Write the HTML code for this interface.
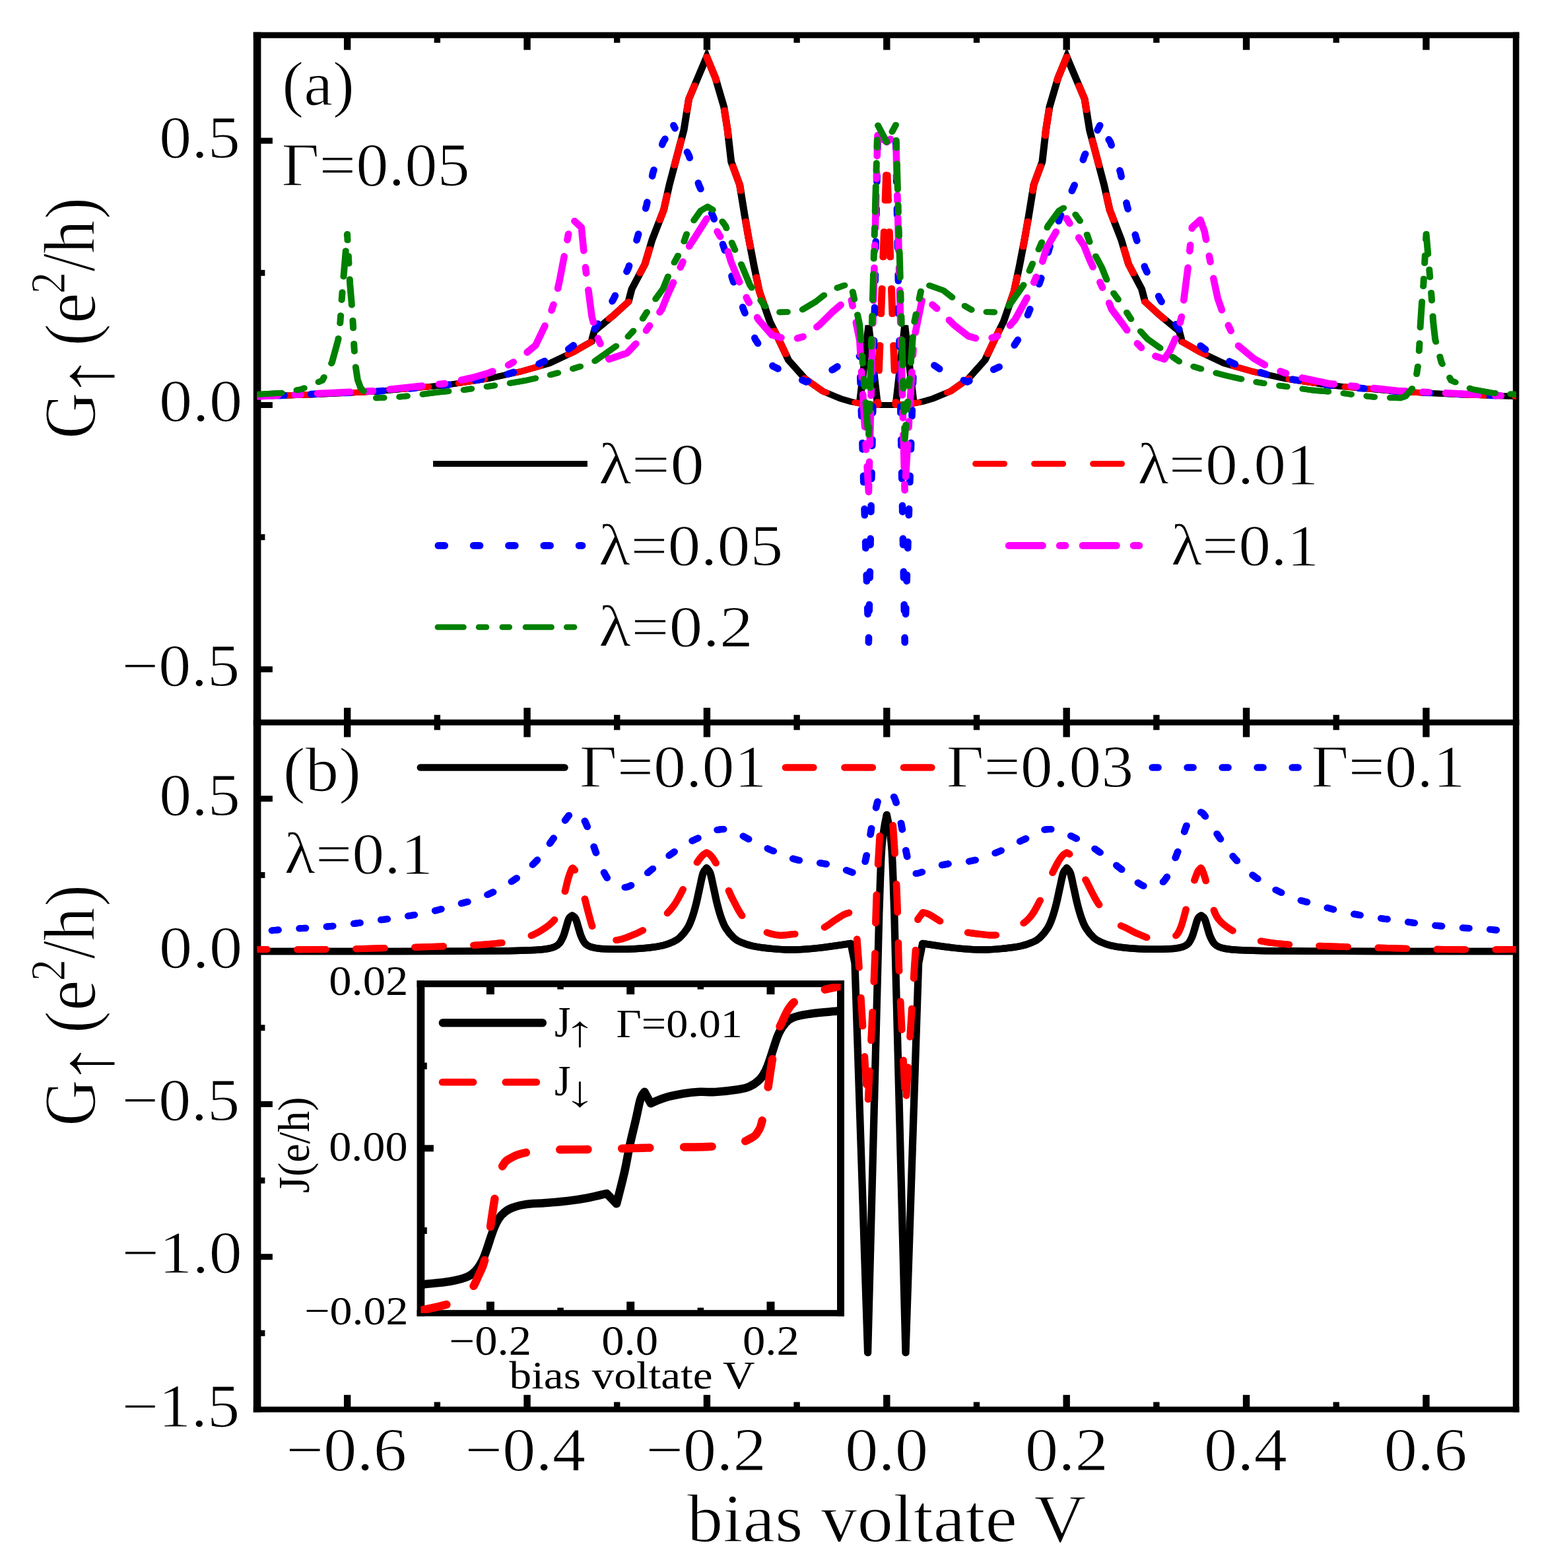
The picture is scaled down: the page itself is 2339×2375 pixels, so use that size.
<!DOCTYPE html>
<html lang="en"><head><meta charset="utf-8"><title>Conductance versus bias voltage</title>
<style>html,body{margin:0;padding:0;background:#fff}svg{display:block}</style></head><body>
<svg width="2339" height="2375" viewBox="0 0 2339 2375" role="img" aria-label="Conductance G versus bias voltage V, panels (a) and (b) with inset">
<rect x="0.00" y="0.00" width="2339.00" height="2375.00" fill="#fff"/>
<defs><clipPath id="clipA"><rect x="389.6" y="53.2" width="1907" height="1041"/></clipPath><clipPath id="clipB"><rect x="389.6" y="1094.2" width="1907" height="1040.8"/></clipPath><clipPath id="clipI"><rect x="637.4" y="1490" width="636.2" height="499"/></clipPath></defs>
<path d="M660.6 702.5 L885.4 702.5" fill="none" stroke="#000000" stroke-width="9.0" stroke-linecap="square" stroke-linejoin="round" />
<path d="M1477.6 702.5 L1704.1 702.5" fill="none" stroke="#ff0000" stroke-width="9.0" stroke-linecap="round" stroke-linejoin="round" stroke-dasharray="44 45" stroke-dashoffset="0.0" />
<path d="M663.9 826.4 L882.0 826.4" fill="none" stroke="#0000ff" stroke-width="10.7" stroke-linecap="round" stroke-linejoin="round" stroke-dasharray="9.8 43.5" stroke-dashoffset="0.0" />
<path d="M1528.2 826.4 L1731 826.4" fill="none" stroke="#ff00ff" stroke-width="10.7" stroke-linecap="round" stroke-linejoin="round" stroke-dasharray="51.3 25.7 8.8 26.1" stroke-dashoffset="0.0" />
<path d="M663.0 949.9 L876 949.9" fill="none" stroke="#008000" stroke-width="8.8" stroke-linecap="round" stroke-linejoin="round" stroke-dasharray="39.4 22.8 11.7 24 10.8 24.4" stroke-dashoffset="0.0" />
<path d="M636.9 1162.5 L855.4 1162.5" fill="none" stroke="#000000" stroke-width="10.7" stroke-linecap="round" stroke-linejoin="round" />
<path d="M1190.0 1162.5 L1416 1162.5" fill="none" stroke="#ff0000" stroke-width="10.7" stroke-linecap="round" stroke-linejoin="round" stroke-dasharray="42.3 47.2" stroke-dashoffset="0.0" />
<path d="M1745.7 1162.5 L1970 1162.5" fill="none" stroke="#0000ff" stroke-width="10.7" stroke-linecap="round" stroke-linejoin="round" stroke-dasharray="8.8 44.2" stroke-dashoffset="0.0" />
<path d="M671.0 1549.2 L821.7 1549.2" fill="none" stroke="#000000" stroke-width="12.6" stroke-linecap="round" stroke-linejoin="round" />
<path d="M670.0 1639.2 L818.2 1639.2" fill="none" stroke="#ff0000" stroke-width="10.7" stroke-linecap="round" stroke-linejoin="round" stroke-dasharray="47.1 48.7" stroke-dashoffset="0.0" />
<rect x="383.80" y="48.70" width="11.60" height="2090.50" fill="#000"/>
<rect x="2291.80" y="48.70" width="9.60" height="2090.50" fill="#000"/>
<rect x="383.80" y="48.70" width="1917.60" height="9.10" fill="#000"/>
<rect x="383.80" y="1089.80" width="1917.60" height="8.90" fill="#000"/>
<rect x="383.80" y="2130.60" width="1917.60" height="8.60" fill="#000"/>
<rect x="520.96" y="56.80" width="10.40" height="18.80" fill="#000"/>
<rect x="520.96" y="1072.00" width="10.40" height="44.50" fill="#000"/>
<rect x="520.96" y="2112.80" width="10.40" height="18.80" fill="#000"/>
<rect x="657.65" y="56.80" width="9.40" height="8.00" fill="#000"/>
<rect x="657.65" y="1082.80" width="9.40" height="22.90" fill="#000"/>
<rect x="657.65" y="2123.60" width="9.40" height="8.00" fill="#000"/>
<rect x="793.34" y="56.80" width="10.40" height="18.80" fill="#000"/>
<rect x="793.34" y="1072.00" width="10.40" height="44.50" fill="#000"/>
<rect x="793.34" y="2112.80" width="10.40" height="18.80" fill="#000"/>
<rect x="930.03" y="56.80" width="9.40" height="8.00" fill="#000"/>
<rect x="930.03" y="1082.80" width="9.40" height="22.90" fill="#000"/>
<rect x="930.03" y="2123.60" width="9.40" height="8.00" fill="#000"/>
<rect x="1065.72" y="56.80" width="10.40" height="18.80" fill="#000"/>
<rect x="1065.72" y="1072.00" width="10.40" height="44.50" fill="#000"/>
<rect x="1065.72" y="2112.80" width="10.40" height="18.80" fill="#000"/>
<rect x="1202.41" y="56.80" width="9.40" height="8.00" fill="#000"/>
<rect x="1202.41" y="1082.80" width="9.40" height="22.90" fill="#000"/>
<rect x="1202.41" y="2123.60" width="9.40" height="8.00" fill="#000"/>
<rect x="1338.10" y="56.80" width="10.40" height="18.80" fill="#000"/>
<rect x="1338.10" y="1072.00" width="10.40" height="44.50" fill="#000"/>
<rect x="1338.10" y="2112.80" width="10.40" height="18.80" fill="#000"/>
<rect x="1474.79" y="56.80" width="9.40" height="8.00" fill="#000"/>
<rect x="1474.79" y="1082.80" width="9.40" height="22.90" fill="#000"/>
<rect x="1474.79" y="2123.60" width="9.40" height="8.00" fill="#000"/>
<rect x="1610.48" y="56.80" width="10.40" height="18.80" fill="#000"/>
<rect x="1610.48" y="1072.00" width="10.40" height="44.50" fill="#000"/>
<rect x="1610.48" y="2112.80" width="10.40" height="18.80" fill="#000"/>
<rect x="1747.17" y="56.80" width="9.40" height="8.00" fill="#000"/>
<rect x="1747.17" y="1082.80" width="9.40" height="22.90" fill="#000"/>
<rect x="1747.17" y="2123.60" width="9.40" height="8.00" fill="#000"/>
<rect x="1882.86" y="56.80" width="10.40" height="18.80" fill="#000"/>
<rect x="1882.86" y="1072.00" width="10.40" height="44.50" fill="#000"/>
<rect x="1882.86" y="2112.80" width="10.40" height="18.80" fill="#000"/>
<rect x="2019.55" y="56.80" width="9.40" height="8.00" fill="#000"/>
<rect x="2019.55" y="1082.80" width="9.40" height="22.90" fill="#000"/>
<rect x="2019.55" y="2123.60" width="9.40" height="8.00" fill="#000"/>
<rect x="2155.24" y="56.80" width="10.40" height="18.80" fill="#000"/>
<rect x="2155.24" y="1072.00" width="10.40" height="44.50" fill="#000"/>
<rect x="2155.24" y="2112.80" width="10.40" height="18.80" fill="#000"/>
<rect x="394.40" y="208.70" width="18.50" height="9.00" fill="#000"/>
<rect x="394.40" y="408.85" width="7.00" height="9.00" fill="#000"/>
<rect x="394.40" y="609.00" width="18.50" height="9.00" fill="#000"/>
<rect x="394.40" y="809.15" width="7.00" height="9.00" fill="#000"/>
<rect x="394.40" y="1009.30" width="18.50" height="9.00" fill="#000"/>
<rect x="394.40" y="1205.30" width="18.50" height="9.00" fill="#000"/>
<rect x="394.40" y="1320.95" width="7.00" height="9.00" fill="#000"/>
<rect x="394.40" y="1436.60" width="18.50" height="9.00" fill="#000"/>
<rect x="394.40" y="1552.25" width="7.00" height="9.00" fill="#000"/>
<rect x="394.40" y="1667.90" width="18.50" height="9.00" fill="#000"/>
<rect x="394.40" y="1783.55" width="7.00" height="9.00" fill="#000"/>
<rect x="394.40" y="1899.20" width="18.50" height="9.00" fill="#000"/>
<rect x="394.40" y="2014.85" width="7.00" height="9.00" fill="#000"/>
<g clip-path="url(#clipA)">
<g fill="none" stroke="#000000" stroke-width="9.0" stroke-linecap="round" stroke-linejoin="miter" ><path d="M389.8 600.4 L480.0 597.5 L569.0 593.0 L674.0 583.6 L740.0 573.5 L788.0 563.0 L832.0 550.5 L868.0 533.5 L896.0 517.5 L900.0 502.0 L929.0 478.0 L952.0 457.0 L957.0 438.0 L977.0 400.0 L988.0 363.0 L1005.5 318.0 L1014.0 280.0 L1036.0 197.0 L1043.5 150.0 L1070.6 86.0 L1083.8 118.0 L1096.7 162.0 L1102.2 197.0 L1107.7 245.0 L1120.6 280.0 L1128.0 325.7 L1134.0 360.0 L1142.5 404.0 L1150.4 441.4 L1166.2 487.0 L1178.8 512.3 L1194.5 545.4 L1219.7 573.7 L1246.5 592.6 L1273.3 603.7 L1289.0 608.4 L1302.3 611.0 L1315.9 493.0 L1329.5 613.5 L1343.3 613.5 L1357.1 613.5 L1370.7 493.0 L1384.3 611.0 L1397.6 608.4 L1413.3 603.7 L1440.1 592.6 L1466.9 573.7 L1492.1 545.4 L1507.8 512.3 L1520.4 487.0 L1536.2 441.4 L1544.1 404.0 L1552.6 360.0 L1558.6 325.7 L1566.0 280.0 L1578.9 245.0 L1584.4 197.0 L1589.9 162.0 L1602.8 118.0 L1616.0 86.0 L1643.1 150.0 L1650.6 197.0 L1672.6 280.0 L1681.1 318.0 L1698.6 363.0 L1709.6 400.0 L1729.6 438.0 L1734.6 457.0 L1757.6 478.0 L1786.6 502.0 L1790.6 517.5 L1818.6 533.5 L1854.6 550.5 L1898.6 563.0 L1946.6 573.5 L2012.6 583.6 L2117.6 593.0 L2206.6 597.5 L2296.8 600.4" transform="translate(-1.00 0)"/><path d="M389.8 600.4 L480.0 597.5 L569.0 593.0 L674.0 583.6 L740.0 573.5 L788.0 563.0 L832.0 550.5 L868.0 533.5 L896.0 517.5 L900.0 502.0 L929.0 478.0 L952.0 457.0 L957.0 438.0 L977.0 400.0 L988.0 363.0 L1005.5 318.0 L1014.0 280.0 L1036.0 197.0 L1043.5 150.0 L1070.6 86.0 L1083.8 118.0 L1096.7 162.0 L1102.2 197.0 L1107.7 245.0 L1120.6 280.0 L1128.0 325.7 L1134.0 360.0 L1142.5 404.0 L1150.4 441.4 L1166.2 487.0 L1178.8 512.3 L1194.5 545.4 L1219.7 573.7 L1246.5 592.6 L1273.3 603.7 L1289.0 608.4 L1302.3 611.0 L1315.9 493.0 L1329.5 613.5 L1343.3 613.5 L1357.1 613.5 L1370.7 493.0 L1384.3 611.0 L1397.6 608.4 L1413.3 603.7 L1440.1 592.6 L1466.9 573.7 L1492.1 545.4 L1507.8 512.3 L1520.4 487.0 L1536.2 441.4 L1544.1 404.0 L1552.6 360.0 L1558.6 325.7 L1566.0 280.0 L1578.9 245.0 L1584.4 197.0 L1589.9 162.0 L1602.8 118.0 L1616.0 86.0 L1643.1 150.0 L1650.6 197.0 L1672.6 280.0 L1681.1 318.0 L1698.6 363.0 L1709.6 400.0 L1729.6 438.0 L1734.6 457.0 L1757.6 478.0 L1786.6 502.0 L1790.6 517.5 L1818.6 533.5 L1854.6 550.5 L1898.6 563.0 L1946.6 573.5 L2012.6 583.6 L2117.6 593.0 L2206.6 597.5 L2296.8 600.4" transform="translate(1.00 0)"/></g>
<g fill="none" stroke="#ff0000" stroke-width="9.0" stroke-linecap="round" stroke-linejoin="round" stroke-dasharray="39 47" stroke-dashoffset="37.7" ><path d="M389.8 600.4 L480.0 597.5 L569.0 593.0 L674.0 583.6 L740.0 573.5 L788.0 563.0 L832.0 550.5 L868.0 533.5 L896.0 517.5 L900.0 502.0 L929.0 478.0 L952.0 457.0 L957.0 438.0 L977.0 400.0 L988.0 363.0 L1005.5 318.0 L1014.0 280.0 L1036.0 197.0 L1043.5 150.0 L1070.6 86.0 L1083.8 118.0 L1096.7 162.0 L1102.2 197.0 L1107.7 245.0 L1120.6 280.0 L1128.0 325.7 L1134.0 360.0 L1142.5 404.0 L1150.4 441.4 L1166.2 487.0 L1178.8 512.3 L1194.5 545.4 L1219.7 573.7 L1246.5 592.6 L1273.3 603.7 L1289.0 608.4 L1302.3 611.0 L1329.5 613.5 L1343.3 245.0" transform="translate(-1.00 0)"/><path d="M389.8 600.4 L480.0 597.5 L569.0 593.0 L674.0 583.6 L740.0 573.5 L788.0 563.0 L832.0 550.5 L868.0 533.5 L896.0 517.5 L900.0 502.0 L929.0 478.0 L952.0 457.0 L957.0 438.0 L977.0 400.0 L988.0 363.0 L1005.5 318.0 L1014.0 280.0 L1036.0 197.0 L1043.5 150.0 L1070.6 86.0 L1083.8 118.0 L1096.7 162.0 L1102.2 197.0 L1107.7 245.0 L1120.6 280.0 L1128.0 325.7 L1134.0 360.0 L1142.5 404.0 L1150.4 441.4 L1166.2 487.0 L1178.8 512.3 L1194.5 545.4 L1219.7 573.7 L1246.5 592.6 L1273.3 603.7 L1289.0 608.4 L1302.3 611.0 L1329.5 613.5 L1343.3 245.0" transform="translate(1.00 0)"/></g>
<g fill="none" stroke="#ff0000" stroke-width="9.0" stroke-linecap="round" stroke-linejoin="round" stroke-dasharray="39 47" stroke-dashoffset="66.1" ><path d="M1343.3 245.0 L1357.1 613.5 L1384.3 611.0 L1397.6 608.4 L1413.3 603.7 L1440.1 592.6 L1466.9 573.7 L1492.1 545.4 L1507.8 512.3 L1520.4 487.0 L1536.2 441.4 L1544.1 404.0 L1552.6 360.0 L1558.6 325.7 L1566.0 280.0 L1578.9 245.0 L1584.4 197.0 L1589.9 162.0 L1602.8 118.0 L1616.0 86.0 L1643.1 150.0 L1650.6 197.0 L1672.6 280.0 L1681.1 318.0 L1698.6 363.0 L1709.6 400.0 L1729.6 438.0 L1734.6 457.0 L1757.6 478.0 L1786.6 502.0 L1790.6 517.5 L1818.6 533.5 L1854.6 550.5 L1898.6 563.0 L1946.6 573.5 L2012.6 583.6 L2117.6 593.0 L2206.6 597.5 L2296.8 600.4" transform="translate(-1.00 0)"/><path d="M1343.3 245.0 L1357.1 613.5 L1384.3 611.0 L1397.6 608.4 L1413.3 603.7 L1440.1 592.6 L1466.9 573.7 L1492.1 545.4 L1507.8 512.3 L1520.4 487.0 L1536.2 441.4 L1544.1 404.0 L1552.6 360.0 L1558.6 325.7 L1566.0 280.0 L1578.9 245.0 L1584.4 197.0 L1589.9 162.0 L1602.8 118.0 L1616.0 86.0 L1643.1 150.0 L1650.6 197.0 L1672.6 280.0 L1681.1 318.0 L1698.6 363.0 L1709.6 400.0 L1729.6 438.0 L1734.6 457.0 L1757.6 478.0 L1786.6 502.0 L1790.6 517.5 L1818.6 533.5 L1854.6 550.5 L1898.6 563.0 L1946.6 573.5 L2012.6 583.6 L2117.6 593.0 L2206.6 597.5 L2296.8 600.4" transform="translate(1.00 0)"/></g>
<path d="M389.8 600.4 L569.0 593.0 L674.0 583.6 L761.0 569.3 L813.5 552.5 L857.6 531.5 L899.7 500.0 L929.0 453.8 L952.2 405.5 L965.8 359.2 L979.5 310.9 L989.0 262.0 L1004.4 215.4 L1020.4 190.0" fill="none" stroke="#0000ff" stroke-width="10.6" stroke-linecap="round" stroke-linejoin="round" stroke-dasharray="9.4 40.6" stroke-dashoffset="18.6" />
<path d="M1020.4 190.0 L1043.7 235.7 L1059.0 280.7 L1081.0 329.5 L1097.0 376.0 L1109.6 422.4 L1126.7 469.6 L1144.1 513.9 L1170.9 554.8 L1221.3 578.5 L1262.3 559.5 L1297.0 535.9 L1302.3 540.0" fill="none" stroke="#0000ff" stroke-width="10.6" stroke-linecap="round" stroke-linejoin="round" stroke-dasharray="9.4 40.6" stroke-dashoffset="4.7" />
<path d="M1302.3 540.0 L1315.9 973.0 L1329.5 215.0 L1343.3 213.0" fill="none" stroke="#0000ff" stroke-width="10.6" stroke-linecap="round" stroke-linejoin="round" stroke-dasharray="9.4 40.6" stroke-dashoffset="19.0" />
<path d="M1343.3 213.0 L1357.1 215.0 L1370.7 973.0 L1384.3 540.0" fill="none" stroke="#0000ff" stroke-width="10.6" stroke-linecap="round" stroke-linejoin="round" stroke-dasharray="9.4 40.6" stroke-dashoffset="35.1" />
<path d="M1384.3 540.0 L1389.6 535.9 L1424.3 559.5 L1465.3 578.5 L1515.7 554.8 L1542.5 513.9 L1559.9 469.6 L1577.0 422.4 L1589.6 376.0 L1605.6 329.5 L1627.6 280.7 L1642.9 235.7 L1666.2 190.0" fill="none" stroke="#0000ff" stroke-width="10.6" stroke-linecap="round" stroke-linejoin="round" stroke-dasharray="9.4 40.6" stroke-dashoffset="12.1" />
<path d="M1666.2 190.0 L1682.2 215.4 L1697.6 262.0 L1707.1 310.9 L1720.8 359.2 L1734.4 405.5 L1757.6 453.8 L1786.9 500.0 L1829.0 531.5 L1873.1 552.5 L1925.6 569.3 L2012.6 583.6 L2117.6 593.0 L2296.8 600.4" fill="none" stroke="#0000ff" stroke-width="10.6" stroke-linecap="round" stroke-linejoin="round" stroke-dasharray="9.4 40.6" stroke-dashoffset="24.7" />
<path d="M389.8 600.4 L569.0 592.0 L674.0 581.0 L716.0 572.0 L740.0 565.0 L767.3 554.6 L787.3 543.0 L811.4 523.0 L832.4 479.0 L841.9 451.7 L848.2 422.3 L856.6 378.2 L861.8 350.8 L868.2 333.0 L880.8 344.5 L883.9 376.0 L887.0 405.5 L891.3 439.0 L896.5 479.0 L903.9 508.4 L914.4 531.5 L922.8 544.0 L950.0 534.7 L969.0 514.7 L986.8 489.5 L1002.6 468.5 L1011.0 447.5 L1023.6 420.2 L1036.2 392.9 L1044.6 371.8 L1053.0 359.2 L1070.8 331.0 L1086.6 350.8 L1101.3 376.0 L1107.6 397.0 L1118.0 422.3 L1131.5 452.4 L1148.8 483.9 L1169.3 507.5 L1197.7 515.4 L1219.7 509.1 L1241.8 491.8 L1260.7 472.9 L1288.7 449.0 L1302.3 515.4 L1315.9 745.0 L1329.5 205.0 L1343.3 215.0" fill="none" stroke="#ff00ff" stroke-width="10.6" stroke-linecap="round" stroke-linejoin="round" stroke-dasharray="49.4 25.6 8.9 25.6" stroke-dashoffset="18.1" />
<path d="M1343.3 215.0 L1357.1 205.0 L1370.7 745.0 L1384.3 515.4 L1397.9 449.0 L1425.9 472.9 L1444.8 491.8 L1466.9 509.1 L1488.9 515.4 L1517.3 507.5 L1537.8 483.9 L1555.1 452.4 L1568.6 422.3 L1579.0 397.0 L1585.3 376.0 L1600.0 350.8 L1615.8 331.0 L1633.6 359.2 L1642.0 371.8 L1650.4 392.9 L1663.0 420.2 L1675.6 447.5 L1684.0 468.5 L1699.8 489.5 L1717.6 514.7 L1736.6 534.7 L1763.8 544.0 L1772.2 531.5 L1782.7 508.4 L1790.1 479.0 L1795.3 439.0 L1799.6 405.5 L1802.7 376.0 L1805.8 344.5 L1818.4 333.0 L1824.8 350.8 L1830.0 378.2 L1838.4 422.3 L1844.7 451.7 L1854.2 479.0 L1875.2 523.0 L1899.3 543.0 L1919.3 554.6 L1946.6 565.0 L1970.6 572.0 L2012.6 581.0 L2117.6 592.0 L2296.8 600.4" fill="none" stroke="#ff00ff" stroke-width="10.6" stroke-linecap="round" stroke-linejoin="round" stroke-dasharray="49.4 25.6 8.9 25.6" stroke-dashoffset="76.8" />
<g fill="none" stroke="#008000" stroke-width="8.8" stroke-linecap="round" stroke-linejoin="round" stroke-dasharray="39.2 23.3 11.7 23.6 11.7 23.8" stroke-dashoffset="2.3" ><path d="M389.8 597.3 L426.2 595.2 L456.7 589.5 L488.2 576.3 L502.9 549.0 L512.4 514.3 L515.5 487.0 L517.6 454.4 L519.7 428.2 L522.9 390.3 L526.0 354.5 L530.2 430.3 L532.7 459.7 L534.8 491.2 L536.5 526.9 L538.6 554.2 L541.8 575.2 L546.0 586.8 L557.5 600.4 L564.9 602.9 L598.5 601.9 L632.1 598.3 L663.6 594.1 L699.3 591.0 L728.7 586.8 L766.6 581.5 L794.6 576.7 L828.0 569.3 L859.7 561.0 L897.6 549.4 L918.6 534.7 L948.0 513.7 L968.0 491.6 L988.0 460.0 L1004.7 437.0 L1017.3 405.5 L1032.0 378.2 L1043.6 344.5 L1061.4 319.3 L1072.0 313.0 L1082.4 319.3 L1099.2 342.4 L1107.9 365.8 L1123.6 402.0 L1136.2 432.0 L1158.3 463.4 L1178.8 472.9 L1210.3 472.1 L1235.5 457.1 L1257.6 439.8 L1289.0 428.8 L1302.3 492.0 L1315.9 665.0 L1329.5 189.0 L1343.3 215.0" transform="translate(-0.60 0)"/><path d="M389.8 597.3 L426.2 595.2 L456.7 589.5 L488.2 576.3 L502.9 549.0 L512.4 514.3 L515.5 487.0 L517.6 454.4 L519.7 428.2 L522.9 390.3 L526.0 354.5 L530.2 430.3 L532.7 459.7 L534.8 491.2 L536.5 526.9 L538.6 554.2 L541.8 575.2 L546.0 586.8 L557.5 600.4 L564.9 602.9 L598.5 601.9 L632.1 598.3 L663.6 594.1 L699.3 591.0 L728.7 586.8 L766.6 581.5 L794.6 576.7 L828.0 569.3 L859.7 561.0 L897.6 549.4 L918.6 534.7 L948.0 513.7 L968.0 491.6 L988.0 460.0 L1004.7 437.0 L1017.3 405.5 L1032.0 378.2 L1043.6 344.5 L1061.4 319.3 L1072.0 313.0 L1082.4 319.3 L1099.2 342.4 L1107.9 365.8 L1123.6 402.0 L1136.2 432.0 L1158.3 463.4 L1178.8 472.9 L1210.3 472.1 L1235.5 457.1 L1257.6 439.8 L1289.0 428.8 L1302.3 492.0 L1315.9 665.0 L1329.5 189.0 L1343.3 215.0" transform="translate(0.60 0)"/></g>
<g fill="none" stroke="#008000" stroke-width="8.8" stroke-linecap="round" stroke-linejoin="round" stroke-dasharray="39.2 23.3 11.7 23.6 11.7 23.8" stroke-dashoffset="45.0" ><path d="M1343.3 215.0 L1357.1 189.0 L1370.7 665.0 L1384.3 492.0 L1397.6 428.8 L1429.0 439.8 L1451.1 457.1 L1476.3 472.1 L1507.8 472.9 L1528.3 463.4 L1550.4 432.0 L1563.0 402.0 L1578.7 365.8 L1587.4 342.4 L1604.2 319.3 L1614.6 313.0 L1625.2 319.3 L1643.0 344.5 L1654.6 378.2 L1669.3 405.5 L1681.9 437.0 L1698.6 460.0 L1718.6 491.6 L1738.6 513.7 L1768.0 534.7 L1789.0 549.4 L1826.9 561.0 L1858.6 569.3 L1892.0 576.7 L1920.0 581.5 L1957.9 586.8 L1987.3 591.0 L2023.0 594.1 L2054.5 598.3 L2088.1 601.9 L2121.7 602.9 L2129.1 600.4 L2140.6 586.8 L2144.8 575.2 L2148.0 554.2 L2150.1 526.9 L2151.8 491.2 L2153.9 459.7 L2156.4 430.3 L2160.6 354.5 L2163.7 390.3 L2166.9 428.2 L2169.0 454.4 L2171.1 487.0 L2174.2 514.3 L2183.7 549.0 L2198.4 576.3 L2229.9 589.5 L2260.4 595.2 L2296.8 597.3" transform="translate(-0.60 0)"/><path d="M1343.3 215.0 L1357.1 189.0 L1370.7 665.0 L1384.3 492.0 L1397.6 428.8 L1429.0 439.8 L1451.1 457.1 L1476.3 472.1 L1507.8 472.9 L1528.3 463.4 L1550.4 432.0 L1563.0 402.0 L1578.7 365.8 L1587.4 342.4 L1604.2 319.3 L1614.6 313.0 L1625.2 319.3 L1643.0 344.5 L1654.6 378.2 L1669.3 405.5 L1681.9 437.0 L1698.6 460.0 L1718.6 491.6 L1738.6 513.7 L1768.0 534.7 L1789.0 549.4 L1826.9 561.0 L1858.6 569.3 L1892.0 576.7 L1920.0 581.5 L1957.9 586.8 L1987.3 591.0 L2023.0 594.1 L2054.5 598.3 L2088.1 601.9 L2121.7 602.9 L2129.1 600.4 L2140.6 586.8 L2144.8 575.2 L2148.0 554.2 L2150.1 526.9 L2151.8 491.2 L2153.9 459.7 L2156.4 430.3 L2160.6 354.5 L2163.7 390.3 L2166.9 428.2 L2169.0 454.4 L2171.1 487.0 L2174.2 514.3 L2183.7 549.0 L2198.4 576.3 L2229.9 589.5 L2260.4 595.2 L2296.8 597.3" transform="translate(0.60 0)"/></g>
</g>
<g clip-path="url(#clipB)">
<g fill="none" stroke="#000000" stroke-width="10.5" stroke-linecap="round" stroke-linejoin="round" ><path d="M389.8 1441.1 C428.3 1441.1 539.5 1441.1 600.0 1441.0 C660.5 1440.9 687.0 1440.8 720.0 1440.6 C753.0 1440.4 763.5 1440.3 780.0 1440.0 C796.5 1439.7 800.8 1439.5 810.0 1439.0 C819.2 1438.5 824.5 1437.9 830.0 1437.0 C835.5 1436.1 836.8 1435.7 840.0 1434.3 C843.2 1432.8 844.9 1432.0 847.4 1429.0 C849.9 1426.0 851.6 1422.3 853.5 1417.9 C855.4 1413.5 856.0 1409.9 857.5 1405.1 C859.0 1400.3 860.1 1395.0 861.8 1391.6 C863.5 1388.2 866.0 1387.4 866.9 1386.5 C867.8 1387.4 870.3 1388.2 872.0 1391.6 C873.7 1395.0 874.8 1400.3 876.3 1405.1 C877.8 1409.9 878.4 1413.5 880.3 1417.9 C882.2 1422.3 883.7 1426.0 886.4 1429.0 C889.1 1432.0 890.7 1432.7 895.0 1434.2 C899.3 1435.6 902.7 1436.3 910.0 1437.0 C917.3 1437.6 925.8 1437.8 935.0 1437.8 C944.2 1437.9 950.8 1437.7 960.0 1437.2 C969.2 1436.7 976.8 1436.3 985.0 1435.3 C993.2 1434.3 999.0 1433.2 1005.0 1431.8 C1011.0 1430.3 1013.5 1429.4 1018.0 1427.3 C1022.5 1425.3 1025.0 1424.5 1029.3 1420.6 C1033.6 1416.7 1037.9 1411.7 1041.5 1405.8 C1045.1 1399.9 1046.6 1395.2 1049.0 1388.4 C1051.4 1381.6 1052.7 1376.5 1054.7 1368.5 C1056.7 1360.5 1058.0 1353.4 1059.9 1345.0 C1061.8 1336.6 1063.2 1328.1 1065.1 1322.5 C1067.0 1316.9 1069.5 1316.0 1070.5 1314.5 C1071.5 1316.0 1074.0 1316.9 1075.9 1322.5 C1077.8 1328.1 1079.2 1336.6 1081.1 1345.0 C1083.0 1353.4 1084.3 1360.5 1086.3 1368.5 C1088.3 1376.5 1089.6 1381.6 1092.0 1388.4 C1094.4 1395.2 1095.9 1399.9 1099.5 1405.8 C1103.1 1411.7 1107.4 1416.6 1111.7 1420.6 C1116.0 1424.6 1117.8 1425.2 1123.0 1427.4 C1128.2 1429.7 1132.3 1431.2 1140.0 1432.9 C1147.7 1434.6 1154.0 1435.5 1165.0 1436.5 C1176.0 1437.6 1185.8 1438.8 1200.0 1438.6 C1214.2 1438.4 1226.1 1437.4 1242.4 1435.6 C1258.7 1433.8 1280.5 1430.2 1289.0 1429.0 L1295.0 1459.0 L1314.6 2049.0 C1316.0 1994.2 1319.5 1861.0 1322.4 1750.0 C1325.3 1639.0 1328.5 1514.2 1330.3 1443.8 C1332.1 1373.4 1331.4 1394.7 1332.4 1366.2 C1333.4 1337.7 1334.2 1309.0 1335.5 1288.6 C1336.8 1268.2 1337.9 1265.0 1339.3 1255.0 C1340.7 1245.0 1342.6 1237.8 1343.3 1234.0 C1344.0 1237.8 1345.9 1245.0 1347.3 1255.0 C1348.7 1265.0 1349.8 1268.2 1351.1 1288.6 C1352.4 1309.0 1353.2 1337.7 1354.2 1366.2 C1355.2 1394.7 1354.5 1373.4 1356.3 1443.8 C1358.1 1514.2 1361.3 1639.0 1364.2 1750.0 C1367.1 1861.0 1370.6 1994.2 1372.0 2049.0 L1391.6 1459.0 L1397.6 1429.0 C1406.1 1430.2 1427.9 1433.8 1444.2 1435.6 C1460.5 1437.4 1472.4 1438.4 1486.6 1438.6 C1500.8 1438.8 1510.6 1437.6 1521.6 1436.5 C1532.6 1435.5 1538.9 1434.6 1546.6 1432.9 C1554.3 1431.2 1558.4 1429.7 1563.6 1427.4 C1568.8 1425.2 1570.6 1424.6 1574.9 1420.6 C1579.2 1416.6 1583.5 1411.7 1587.1 1405.8 C1590.7 1399.9 1592.2 1395.2 1594.6 1388.4 C1597.0 1381.6 1598.3 1376.5 1600.3 1368.5 C1602.3 1360.5 1603.6 1353.4 1605.5 1345.0 C1607.4 1336.6 1608.8 1328.1 1610.7 1322.5 C1612.6 1316.9 1615.1 1316.0 1616.1 1314.5 C1617.1 1316.0 1619.6 1316.9 1621.5 1322.5 C1623.4 1328.1 1624.8 1336.6 1626.7 1345.0 C1628.6 1353.4 1629.9 1360.5 1631.9 1368.5 C1633.9 1376.5 1635.2 1381.6 1637.6 1388.4 C1640.0 1395.2 1641.5 1399.9 1645.1 1405.8 C1648.7 1411.7 1653.0 1416.7 1657.3 1420.6 C1661.6 1424.5 1664.1 1425.3 1668.6 1427.3 C1673.1 1429.4 1675.5 1430.3 1681.6 1431.8 C1687.6 1433.2 1693.3 1434.3 1701.6 1435.3 C1709.8 1436.3 1717.4 1436.7 1726.6 1437.2 C1735.8 1437.7 1742.4 1437.9 1751.6 1437.8 C1760.8 1437.8 1769.3 1437.6 1776.6 1437.0 C1783.9 1436.3 1787.3 1435.6 1791.6 1434.2 C1795.9 1432.7 1797.5 1432.0 1800.2 1429.0 C1802.9 1426.0 1804.4 1422.3 1806.3 1417.9 C1808.2 1413.5 1808.8 1409.9 1810.3 1405.1 C1811.8 1400.3 1812.9 1395.0 1814.6 1391.6 C1816.3 1388.2 1818.8 1387.4 1819.7 1386.5 C1820.6 1387.4 1823.1 1388.2 1824.8 1391.6 C1826.5 1395.0 1827.6 1400.3 1829.1 1405.1 C1830.6 1409.9 1831.2 1413.5 1833.1 1417.9 C1835.0 1422.3 1836.7 1426.0 1839.2 1429.0 C1841.7 1432.0 1843.4 1432.8 1846.6 1434.3 C1849.8 1435.7 1851.1 1436.1 1856.6 1437.0 C1862.1 1437.9 1867.4 1438.5 1876.6 1439.0 C1885.8 1439.5 1890.1 1439.7 1906.6 1440.0 C1923.1 1440.3 1933.6 1440.4 1966.6 1440.6 C1999.6 1440.8 2026.1 1440.9 2086.6 1441.0 C2147.1 1441.1 2258.3 1441.1 2296.8 1441.1" transform="translate(-0.40 0)"/><path d="M389.8 1441.1 C428.3 1441.1 539.5 1441.1 600.0 1441.0 C660.5 1440.9 687.0 1440.8 720.0 1440.6 C753.0 1440.4 763.5 1440.3 780.0 1440.0 C796.5 1439.7 800.8 1439.5 810.0 1439.0 C819.2 1438.5 824.5 1437.9 830.0 1437.0 C835.5 1436.1 836.8 1435.7 840.0 1434.3 C843.2 1432.8 844.9 1432.0 847.4 1429.0 C849.9 1426.0 851.6 1422.3 853.5 1417.9 C855.4 1413.5 856.0 1409.9 857.5 1405.1 C859.0 1400.3 860.1 1395.0 861.8 1391.6 C863.5 1388.2 866.0 1387.4 866.9 1386.5 C867.8 1387.4 870.3 1388.2 872.0 1391.6 C873.7 1395.0 874.8 1400.3 876.3 1405.1 C877.8 1409.9 878.4 1413.5 880.3 1417.9 C882.2 1422.3 883.7 1426.0 886.4 1429.0 C889.1 1432.0 890.7 1432.7 895.0 1434.2 C899.3 1435.6 902.7 1436.3 910.0 1437.0 C917.3 1437.6 925.8 1437.8 935.0 1437.8 C944.2 1437.9 950.8 1437.7 960.0 1437.2 C969.2 1436.7 976.8 1436.3 985.0 1435.3 C993.2 1434.3 999.0 1433.2 1005.0 1431.8 C1011.0 1430.3 1013.5 1429.4 1018.0 1427.3 C1022.5 1425.3 1025.0 1424.5 1029.3 1420.6 C1033.6 1416.7 1037.9 1411.7 1041.5 1405.8 C1045.1 1399.9 1046.6 1395.2 1049.0 1388.4 C1051.4 1381.6 1052.7 1376.5 1054.7 1368.5 C1056.7 1360.5 1058.0 1353.4 1059.9 1345.0 C1061.8 1336.6 1063.2 1328.1 1065.1 1322.5 C1067.0 1316.9 1069.5 1316.0 1070.5 1314.5 C1071.5 1316.0 1074.0 1316.9 1075.9 1322.5 C1077.8 1328.1 1079.2 1336.6 1081.1 1345.0 C1083.0 1353.4 1084.3 1360.5 1086.3 1368.5 C1088.3 1376.5 1089.6 1381.6 1092.0 1388.4 C1094.4 1395.2 1095.9 1399.9 1099.5 1405.8 C1103.1 1411.7 1107.4 1416.6 1111.7 1420.6 C1116.0 1424.6 1117.8 1425.2 1123.0 1427.4 C1128.2 1429.7 1132.3 1431.2 1140.0 1432.9 C1147.7 1434.6 1154.0 1435.5 1165.0 1436.5 C1176.0 1437.6 1185.8 1438.8 1200.0 1438.6 C1214.2 1438.4 1226.1 1437.4 1242.4 1435.6 C1258.7 1433.8 1280.5 1430.2 1289.0 1429.0 L1295.0 1459.0 L1314.6 2049.0 C1316.0 1994.2 1319.5 1861.0 1322.4 1750.0 C1325.3 1639.0 1328.5 1514.2 1330.3 1443.8 C1332.1 1373.4 1331.4 1394.7 1332.4 1366.2 C1333.4 1337.7 1334.2 1309.0 1335.5 1288.6 C1336.8 1268.2 1337.9 1265.0 1339.3 1255.0 C1340.7 1245.0 1342.6 1237.8 1343.3 1234.0 C1344.0 1237.8 1345.9 1245.0 1347.3 1255.0 C1348.7 1265.0 1349.8 1268.2 1351.1 1288.6 C1352.4 1309.0 1353.2 1337.7 1354.2 1366.2 C1355.2 1394.7 1354.5 1373.4 1356.3 1443.8 C1358.1 1514.2 1361.3 1639.0 1364.2 1750.0 C1367.1 1861.0 1370.6 1994.2 1372.0 2049.0 L1391.6 1459.0 L1397.6 1429.0 C1406.1 1430.2 1427.9 1433.8 1444.2 1435.6 C1460.5 1437.4 1472.4 1438.4 1486.6 1438.6 C1500.8 1438.8 1510.6 1437.6 1521.6 1436.5 C1532.6 1435.5 1538.9 1434.6 1546.6 1432.9 C1554.3 1431.2 1558.4 1429.7 1563.6 1427.4 C1568.8 1425.2 1570.6 1424.6 1574.9 1420.6 C1579.2 1416.6 1583.5 1411.7 1587.1 1405.8 C1590.7 1399.9 1592.2 1395.2 1594.6 1388.4 C1597.0 1381.6 1598.3 1376.5 1600.3 1368.5 C1602.3 1360.5 1603.6 1353.4 1605.5 1345.0 C1607.4 1336.6 1608.8 1328.1 1610.7 1322.5 C1612.6 1316.9 1615.1 1316.0 1616.1 1314.5 C1617.1 1316.0 1619.6 1316.9 1621.5 1322.5 C1623.4 1328.1 1624.8 1336.6 1626.7 1345.0 C1628.6 1353.4 1629.9 1360.5 1631.9 1368.5 C1633.9 1376.5 1635.2 1381.6 1637.6 1388.4 C1640.0 1395.2 1641.5 1399.9 1645.1 1405.8 C1648.7 1411.7 1653.0 1416.7 1657.3 1420.6 C1661.6 1424.5 1664.1 1425.3 1668.6 1427.3 C1673.1 1429.4 1675.5 1430.3 1681.6 1431.8 C1687.6 1433.2 1693.3 1434.3 1701.6 1435.3 C1709.8 1436.3 1717.4 1436.7 1726.6 1437.2 C1735.8 1437.7 1742.4 1437.9 1751.6 1437.8 C1760.8 1437.8 1769.3 1437.6 1776.6 1437.0 C1783.9 1436.3 1787.3 1435.6 1791.6 1434.2 C1795.9 1432.7 1797.5 1432.0 1800.2 1429.0 C1802.9 1426.0 1804.4 1422.3 1806.3 1417.9 C1808.2 1413.5 1808.8 1409.9 1810.3 1405.1 C1811.8 1400.3 1812.9 1395.0 1814.6 1391.6 C1816.3 1388.2 1818.8 1387.4 1819.7 1386.5 C1820.6 1387.4 1823.1 1388.2 1824.8 1391.6 C1826.5 1395.0 1827.6 1400.3 1829.1 1405.1 C1830.6 1409.9 1831.2 1413.5 1833.1 1417.9 C1835.0 1422.3 1836.7 1426.0 1839.2 1429.0 C1841.7 1432.0 1843.4 1432.8 1846.6 1434.3 C1849.8 1435.7 1851.1 1436.1 1856.6 1437.0 C1862.1 1437.9 1867.4 1438.5 1876.6 1439.0 C1885.8 1439.5 1890.1 1439.7 1906.6 1440.0 C1923.1 1440.3 1933.6 1440.4 1966.6 1440.6 C1999.6 1440.8 2026.1 1440.9 2086.6 1441.0 C2147.1 1441.1 2258.3 1441.1 2296.8 1441.1" transform="translate(0.40 0)"/></g>
<g fill="none" stroke="#ff0000" stroke-width="10.0" stroke-linecap="round" stroke-linejoin="round" stroke-dasharray="43 46" stroke-dashoffset="28.3" ><path d="M389.8 1438.0 C410.0 1438.0 449.0 1438.7 500.0 1437.9 C551.0 1437.1 622.1 1435.0 667.9 1433.4 C713.7 1431.8 726.5 1431.7 749.8 1429.3 C773.1 1426.9 781.8 1424.4 795.0 1420.5 C808.2 1416.6 813.6 1413.2 822.0 1408.0 C830.4 1402.8 835.6 1398.9 840.7 1392.3 C845.8 1385.7 847.3 1379.4 850.0 1372.0 C852.7 1364.6 853.5 1359.7 855.5 1352.0 C857.5 1344.3 859.1 1336.4 861.0 1330.0 C862.9 1323.6 864.4 1319.8 865.6 1317.0 C866.8 1314.2 867.2 1315.0 867.5 1314.5 C868.3 1315.5 870.3 1316.6 872.0 1320.0 C873.7 1323.4 875.1 1327.9 877.0 1333.0 C878.9 1338.1 879.6 1338.1 882.4 1348.0 C885.2 1357.9 889.6 1376.5 892.5 1387.0 C895.4 1397.5 895.7 1399.5 898.0 1405.0 C900.3 1410.5 901.2 1414.0 905.2 1417.2 C909.2 1420.4 913.8 1421.4 920.0 1422.5 C926.2 1423.6 930.8 1424.8 938.9 1423.2 C947.0 1421.6 956.9 1417.0 964.4 1413.8 C971.9 1410.6 974.2 1408.9 980.0 1405.8 C985.8 1402.7 988.3 1403.4 995.8 1397.1 C1003.3 1390.8 1012.4 1383.1 1020.7 1371.7 C1029.0 1360.3 1034.6 1346.4 1040.9 1334.7 C1047.2 1323.0 1050.8 1315.1 1055.0 1308.0 C1059.2 1300.9 1061.2 1299.0 1064.0 1296.0 C1066.8 1293.0 1069.3 1292.2 1070.5 1291.4 C1071.7 1292.2 1074.3 1293.0 1077.0 1296.0 C1079.7 1299.0 1081.2 1301.1 1085.0 1308.0 C1088.8 1314.9 1092.7 1323.1 1097.5 1333.5 C1102.3 1343.9 1105.3 1353.6 1111.4 1364.7 C1117.5 1375.8 1120.6 1385.1 1131.0 1394.2 C1141.4 1403.3 1155.1 1410.6 1168.0 1414.4 C1180.9 1418.2 1187.8 1416.3 1201.4 1415.0 C1215.0 1413.7 1230.6 1411.3 1242.4 1407.3 C1254.2 1403.3 1259.3 1397.1 1266.0 1393.0 C1272.7 1388.9 1274.9 1387.0 1279.0 1385.0 C1283.1 1383.0 1286.8 1382.5 1288.5 1382.0 L1296.0 1392.0 L1301.0 1459.0 L1314.6 1677.0 C1316.4 1639.9 1322.3 1523.3 1324.4 1474.8 C1326.5 1426.3 1325.2 1438.3 1326.0 1412.7 C1326.8 1387.1 1327.3 1365.1 1328.8 1335.2 C1330.3 1305.3 1332.3 1268.9 1334.0 1249.8 C1335.7 1230.7 1336.3 1235.2 1338.0 1231.0 C1339.7 1226.8 1342.3 1227.7 1343.3 1227.0" transform="translate(-0.40 0)"/><path d="M389.8 1438.0 C410.0 1438.0 449.0 1438.7 500.0 1437.9 C551.0 1437.1 622.1 1435.0 667.9 1433.4 C713.7 1431.8 726.5 1431.7 749.8 1429.3 C773.1 1426.9 781.8 1424.4 795.0 1420.5 C808.2 1416.6 813.6 1413.2 822.0 1408.0 C830.4 1402.8 835.6 1398.9 840.7 1392.3 C845.8 1385.7 847.3 1379.4 850.0 1372.0 C852.7 1364.6 853.5 1359.7 855.5 1352.0 C857.5 1344.3 859.1 1336.4 861.0 1330.0 C862.9 1323.6 864.4 1319.8 865.6 1317.0 C866.8 1314.2 867.2 1315.0 867.5 1314.5 C868.3 1315.5 870.3 1316.6 872.0 1320.0 C873.7 1323.4 875.1 1327.9 877.0 1333.0 C878.9 1338.1 879.6 1338.1 882.4 1348.0 C885.2 1357.9 889.6 1376.5 892.5 1387.0 C895.4 1397.5 895.7 1399.5 898.0 1405.0 C900.3 1410.5 901.2 1414.0 905.2 1417.2 C909.2 1420.4 913.8 1421.4 920.0 1422.5 C926.2 1423.6 930.8 1424.8 938.9 1423.2 C947.0 1421.6 956.9 1417.0 964.4 1413.8 C971.9 1410.6 974.2 1408.9 980.0 1405.8 C985.8 1402.7 988.3 1403.4 995.8 1397.1 C1003.3 1390.8 1012.4 1383.1 1020.7 1371.7 C1029.0 1360.3 1034.6 1346.4 1040.9 1334.7 C1047.2 1323.0 1050.8 1315.1 1055.0 1308.0 C1059.2 1300.9 1061.2 1299.0 1064.0 1296.0 C1066.8 1293.0 1069.3 1292.2 1070.5 1291.4 C1071.7 1292.2 1074.3 1293.0 1077.0 1296.0 C1079.7 1299.0 1081.2 1301.1 1085.0 1308.0 C1088.8 1314.9 1092.7 1323.1 1097.5 1333.5 C1102.3 1343.9 1105.3 1353.6 1111.4 1364.7 C1117.5 1375.8 1120.6 1385.1 1131.0 1394.2 C1141.4 1403.3 1155.1 1410.6 1168.0 1414.4 C1180.9 1418.2 1187.8 1416.3 1201.4 1415.0 C1215.0 1413.7 1230.6 1411.3 1242.4 1407.3 C1254.2 1403.3 1259.3 1397.1 1266.0 1393.0 C1272.7 1388.9 1274.9 1387.0 1279.0 1385.0 C1283.1 1383.0 1286.8 1382.5 1288.5 1382.0 L1296.0 1392.0 L1301.0 1459.0 L1314.6 1677.0 C1316.4 1639.9 1322.3 1523.3 1324.4 1474.8 C1326.5 1426.3 1325.2 1438.3 1326.0 1412.7 C1326.8 1387.1 1327.3 1365.1 1328.8 1335.2 C1330.3 1305.3 1332.3 1268.9 1334.0 1249.8 C1335.7 1230.7 1336.3 1235.2 1338.0 1231.0 C1339.7 1226.8 1342.3 1227.7 1343.3 1227.0" transform="translate(0.40 0)"/></g>
<g fill="none" stroke="#ff0000" stroke-width="10.0" stroke-linecap="round" stroke-linejoin="round" stroke-dasharray="43 46" stroke-dashoffset="62.3" ><path d="M1343.3 1227.0 C1344.3 1227.7 1346.9 1226.8 1348.6 1231.0 C1350.3 1235.2 1350.9 1230.7 1352.6 1249.8 C1354.3 1268.9 1356.3 1305.3 1357.8 1335.2 C1359.3 1365.1 1359.8 1387.1 1360.6 1412.7 C1361.4 1438.3 1360.1 1426.3 1362.2 1474.8 C1364.3 1523.3 1370.2 1639.9 1372.0 1677.0 L1385.6 1459.0 L1390.6 1392.0 L1398.1 1382.0 C1399.8 1382.5 1403.5 1383.0 1407.6 1385.0 C1411.7 1387.0 1413.9 1388.9 1420.6 1393.0 C1427.3 1397.1 1432.4 1403.3 1444.2 1407.3 C1456.0 1411.3 1471.6 1413.7 1485.2 1415.0 C1498.8 1416.3 1505.7 1418.2 1518.6 1414.4 C1531.5 1410.6 1545.2 1403.3 1555.6 1394.2 C1566.0 1385.1 1569.1 1375.8 1575.2 1364.7 C1581.3 1353.6 1584.3 1343.9 1589.1 1333.5 C1593.9 1323.1 1597.8 1314.9 1601.6 1308.0 C1605.4 1301.1 1606.9 1299.0 1609.6 1296.0 C1612.3 1293.0 1614.9 1292.2 1616.1 1291.4 C1617.3 1292.2 1619.8 1293.0 1622.6 1296.0 C1625.4 1299.0 1627.4 1300.9 1631.6 1308.0 C1635.8 1315.1 1639.4 1323.0 1645.7 1334.7 C1652.0 1346.4 1657.6 1360.3 1665.9 1371.7 C1674.2 1383.1 1683.3 1390.8 1690.8 1397.1 C1698.3 1403.4 1700.8 1402.7 1706.6 1405.8 C1712.4 1408.9 1714.7 1410.6 1722.2 1413.8 C1729.7 1417.0 1739.6 1421.6 1747.7 1423.2 C1755.8 1424.8 1760.4 1423.6 1766.6 1422.5 C1772.8 1421.4 1777.4 1420.4 1781.4 1417.2 C1785.4 1414.0 1786.3 1410.5 1788.6 1405.0 C1790.9 1399.5 1791.2 1397.5 1794.1 1387.0 C1797.0 1376.5 1801.4 1357.9 1804.2 1348.0 C1807.0 1338.1 1807.7 1338.1 1809.6 1333.0 C1811.5 1327.9 1812.9 1323.4 1814.6 1320.0 C1816.3 1316.6 1818.3 1315.5 1819.1 1314.5 C1819.4 1315.0 1819.8 1314.2 1821.0 1317.0 C1822.2 1319.8 1823.7 1323.6 1825.6 1330.0 C1827.5 1336.4 1829.1 1344.3 1831.1 1352.0 C1833.1 1359.7 1833.9 1364.6 1836.6 1372.0 C1839.3 1379.4 1840.8 1385.7 1845.9 1392.3 C1851.0 1398.9 1856.2 1402.8 1864.6 1408.0 C1873.0 1413.2 1878.4 1416.6 1891.6 1420.5 C1904.8 1424.4 1913.5 1426.9 1936.8 1429.3 C1960.1 1431.7 1972.9 1431.8 2018.7 1433.4 C2064.5 1435.0 2135.6 1437.1 2186.6 1437.9 C2237.6 1438.7 2276.6 1438.0 2296.8 1438.0" transform="translate(-0.40 0)"/><path d="M1343.3 1227.0 C1344.3 1227.7 1346.9 1226.8 1348.6 1231.0 C1350.3 1235.2 1350.9 1230.7 1352.6 1249.8 C1354.3 1268.9 1356.3 1305.3 1357.8 1335.2 C1359.3 1365.1 1359.8 1387.1 1360.6 1412.7 C1361.4 1438.3 1360.1 1426.3 1362.2 1474.8 C1364.3 1523.3 1370.2 1639.9 1372.0 1677.0 L1385.6 1459.0 L1390.6 1392.0 L1398.1 1382.0 C1399.8 1382.5 1403.5 1383.0 1407.6 1385.0 C1411.7 1387.0 1413.9 1388.9 1420.6 1393.0 C1427.3 1397.1 1432.4 1403.3 1444.2 1407.3 C1456.0 1411.3 1471.6 1413.7 1485.2 1415.0 C1498.8 1416.3 1505.7 1418.2 1518.6 1414.4 C1531.5 1410.6 1545.2 1403.3 1555.6 1394.2 C1566.0 1385.1 1569.1 1375.8 1575.2 1364.7 C1581.3 1353.6 1584.3 1343.9 1589.1 1333.5 C1593.9 1323.1 1597.8 1314.9 1601.6 1308.0 C1605.4 1301.1 1606.9 1299.0 1609.6 1296.0 C1612.3 1293.0 1614.9 1292.2 1616.1 1291.4 C1617.3 1292.2 1619.8 1293.0 1622.6 1296.0 C1625.4 1299.0 1627.4 1300.9 1631.6 1308.0 C1635.8 1315.1 1639.4 1323.0 1645.7 1334.7 C1652.0 1346.4 1657.6 1360.3 1665.9 1371.7 C1674.2 1383.1 1683.3 1390.8 1690.8 1397.1 C1698.3 1403.4 1700.8 1402.7 1706.6 1405.8 C1712.4 1408.9 1714.7 1410.6 1722.2 1413.8 C1729.7 1417.0 1739.6 1421.6 1747.7 1423.2 C1755.8 1424.8 1760.4 1423.6 1766.6 1422.5 C1772.8 1421.4 1777.4 1420.4 1781.4 1417.2 C1785.4 1414.0 1786.3 1410.5 1788.6 1405.0 C1790.9 1399.5 1791.2 1397.5 1794.1 1387.0 C1797.0 1376.5 1801.4 1357.9 1804.2 1348.0 C1807.0 1338.1 1807.7 1338.1 1809.6 1333.0 C1811.5 1327.9 1812.9 1323.4 1814.6 1320.0 C1816.3 1316.6 1818.3 1315.5 1819.1 1314.5 C1819.4 1315.0 1819.8 1314.2 1821.0 1317.0 C1822.2 1319.8 1823.7 1323.6 1825.6 1330.0 C1827.5 1336.4 1829.1 1344.3 1831.1 1352.0 C1833.1 1359.7 1833.9 1364.6 1836.6 1372.0 C1839.3 1379.4 1840.8 1385.7 1845.9 1392.3 C1851.0 1398.9 1856.2 1402.8 1864.6 1408.0 C1873.0 1413.2 1878.4 1416.6 1891.6 1420.5 C1904.8 1424.4 1913.5 1426.9 1936.8 1429.3 C1960.1 1431.7 1972.9 1431.8 2018.7 1433.4 C2064.5 1435.0 2135.6 1437.1 2186.6 1437.9 C2237.6 1438.7 2276.6 1438.0 2296.8 1438.0" transform="translate(0.40 0)"/></g>
<g fill="none" stroke="#0000ff" stroke-width="10.0" stroke-linecap="round" stroke-linejoin="round" stroke-dasharray="9.5 32" stroke-dashoffset="19.1" ><path d="M389.8 1411.5 C399.1 1410.7 418.4 1408.6 436.2 1407.3 C454.0 1406.0 462.1 1406.1 478.8 1404.8 C495.5 1403.5 502.2 1403.0 519.8 1401.0 C537.4 1399.0 549.4 1397.1 567.0 1394.7 C584.6 1392.3 591.3 1391.7 608.0 1389.0 C624.7 1386.3 633.6 1385.2 650.6 1381.4 C667.6 1377.6 676.9 1374.6 693.0 1370.0 C709.1 1365.4 715.2 1365.0 731.0 1358.4 C746.8 1351.8 756.6 1347.2 772.1 1337.2 C787.6 1327.2 795.9 1320.7 808.4 1308.3 C820.9 1295.9 824.5 1289.2 834.6 1275.3 C844.7 1261.4 851.9 1248.1 858.8 1239.0 C865.7 1229.9 865.0 1230.6 869.0 1230.0 C873.0 1229.4 875.1 1232.2 879.0 1236.0 C882.9 1239.8 883.4 1237.4 888.4 1249.0 C893.4 1260.6 897.4 1277.7 903.9 1294.1 C910.4 1310.5 914.1 1321.7 920.7 1331.1 C927.3 1340.5 930.0 1339.0 937.0 1341.0 C944.0 1343.0 945.1 1346.4 955.7 1341.2 C966.3 1336.0 977.0 1325.1 990.0 1315.0 C1003.0 1304.9 1008.0 1299.6 1020.7 1290.8 C1033.4 1282.0 1038.3 1278.2 1053.6 1271.2 C1068.9 1264.2 1080.8 1255.8 1097.4 1256.0 C1114.0 1256.2 1122.2 1265.8 1136.8 1272.3 C1151.4 1278.8 1156.0 1282.4 1170.3 1288.5 C1184.6 1294.6 1193.1 1298.7 1208.5 1302.6 C1223.9 1306.5 1235.0 1305.9 1247.3 1308.0 C1259.6 1310.1 1262.2 1310.7 1270.0 1313.0 C1277.8 1315.3 1280.1 1317.6 1286.1 1319.6 C1292.1 1321.6 1295.8 1323.3 1300.0 1323.0 C1304.2 1322.7 1304.8 1321.8 1307.0 1318.0 C1309.2 1314.2 1309.0 1312.6 1310.9 1304.1 C1312.8 1295.6 1314.7 1286.2 1316.7 1275.4 C1318.7 1264.6 1319.1 1259.5 1321.0 1250.0 C1322.9 1240.5 1324.0 1236.1 1326.0 1228.1 C1328.0 1220.1 1328.8 1215.2 1331.0 1210.0 C1333.2 1204.8 1334.5 1204.2 1337.0 1202.0 C1339.5 1199.8 1342.0 1199.6 1343.3 1199.0" transform="translate(-0.40 0)"/><path d="M389.8 1411.5 C399.1 1410.7 418.4 1408.6 436.2 1407.3 C454.0 1406.0 462.1 1406.1 478.8 1404.8 C495.5 1403.5 502.2 1403.0 519.8 1401.0 C537.4 1399.0 549.4 1397.1 567.0 1394.7 C584.6 1392.3 591.3 1391.7 608.0 1389.0 C624.7 1386.3 633.6 1385.2 650.6 1381.4 C667.6 1377.6 676.9 1374.6 693.0 1370.0 C709.1 1365.4 715.2 1365.0 731.0 1358.4 C746.8 1351.8 756.6 1347.2 772.1 1337.2 C787.6 1327.2 795.9 1320.7 808.4 1308.3 C820.9 1295.9 824.5 1289.2 834.6 1275.3 C844.7 1261.4 851.9 1248.1 858.8 1239.0 C865.7 1229.9 865.0 1230.6 869.0 1230.0 C873.0 1229.4 875.1 1232.2 879.0 1236.0 C882.9 1239.8 883.4 1237.4 888.4 1249.0 C893.4 1260.6 897.4 1277.7 903.9 1294.1 C910.4 1310.5 914.1 1321.7 920.7 1331.1 C927.3 1340.5 930.0 1339.0 937.0 1341.0 C944.0 1343.0 945.1 1346.4 955.7 1341.2 C966.3 1336.0 977.0 1325.1 990.0 1315.0 C1003.0 1304.9 1008.0 1299.6 1020.7 1290.8 C1033.4 1282.0 1038.3 1278.2 1053.6 1271.2 C1068.9 1264.2 1080.8 1255.8 1097.4 1256.0 C1114.0 1256.2 1122.2 1265.8 1136.8 1272.3 C1151.4 1278.8 1156.0 1282.4 1170.3 1288.5 C1184.6 1294.6 1193.1 1298.7 1208.5 1302.6 C1223.9 1306.5 1235.0 1305.9 1247.3 1308.0 C1259.6 1310.1 1262.2 1310.7 1270.0 1313.0 C1277.8 1315.3 1280.1 1317.6 1286.1 1319.6 C1292.1 1321.6 1295.8 1323.3 1300.0 1323.0 C1304.2 1322.7 1304.8 1321.8 1307.0 1318.0 C1309.2 1314.2 1309.0 1312.6 1310.9 1304.1 C1312.8 1295.6 1314.7 1286.2 1316.7 1275.4 C1318.7 1264.6 1319.1 1259.5 1321.0 1250.0 C1322.9 1240.5 1324.0 1236.1 1326.0 1228.1 C1328.0 1220.1 1328.8 1215.2 1331.0 1210.0 C1333.2 1204.8 1334.5 1204.2 1337.0 1202.0 C1339.5 1199.8 1342.0 1199.6 1343.3 1199.0" transform="translate(0.40 0)"/></g>
<g fill="none" stroke="#0000ff" stroke-width="10.0" stroke-linecap="round" stroke-linejoin="round" stroke-dasharray="9.5 32" stroke-dashoffset="27.6" ><path d="M1343.3 1199.0 C1344.6 1199.6 1347.1 1199.8 1349.6 1202.0 C1352.1 1204.2 1353.4 1204.8 1355.6 1210.0 C1357.8 1215.2 1358.6 1220.1 1360.6 1228.1 C1362.6 1236.1 1363.7 1240.5 1365.6 1250.0 C1367.5 1259.5 1367.9 1264.6 1369.9 1275.4 C1371.9 1286.2 1373.8 1295.6 1375.7 1304.1 C1377.6 1312.6 1377.4 1314.2 1379.6 1318.0 C1381.8 1321.8 1382.4 1322.7 1386.6 1323.0 C1390.8 1323.3 1394.5 1321.6 1400.5 1319.6 C1406.5 1317.6 1408.8 1315.3 1416.6 1313.0 C1424.4 1310.7 1427.0 1310.1 1439.3 1308.0 C1451.6 1305.9 1462.7 1306.5 1478.1 1302.6 C1493.5 1298.7 1502.0 1294.6 1516.3 1288.5 C1530.6 1282.4 1535.2 1278.8 1549.8 1272.3 C1564.4 1265.8 1572.6 1256.2 1589.2 1256.0 C1605.8 1255.8 1617.7 1264.2 1633.0 1271.2 C1648.3 1278.2 1653.2 1282.0 1665.9 1290.8 C1678.6 1299.6 1683.6 1304.9 1696.6 1315.0 C1709.6 1325.1 1720.3 1336.0 1730.9 1341.2 C1741.5 1346.4 1742.6 1343.0 1749.6 1341.0 C1756.6 1339.0 1759.3 1340.5 1765.9 1331.1 C1772.5 1321.7 1776.2 1310.5 1782.7 1294.1 C1789.2 1277.7 1793.2 1260.6 1798.2 1249.0 C1803.2 1237.4 1803.7 1239.8 1807.6 1236.0 C1811.5 1232.2 1813.6 1229.4 1817.6 1230.0 C1821.6 1230.6 1820.9 1229.9 1827.8 1239.0 C1834.7 1248.1 1841.9 1261.4 1852.0 1275.3 C1862.1 1289.2 1865.7 1295.9 1878.2 1308.3 C1890.7 1320.7 1899.0 1327.2 1914.5 1337.2 C1930.0 1347.2 1939.8 1351.8 1955.6 1358.4 C1971.4 1365.0 1977.5 1365.4 1993.6 1370.0 C2009.7 1374.6 2019.0 1377.6 2036.0 1381.4 C2053.0 1385.2 2061.9 1386.3 2078.6 1389.0 C2095.3 1391.7 2102.0 1392.3 2119.6 1394.7 C2137.2 1397.1 2149.2 1399.0 2166.8 1401.0 C2184.4 1403.0 2191.1 1403.5 2207.8 1404.8 C2224.5 1406.1 2232.6 1406.0 2250.4 1407.3 C2268.2 1408.6 2287.5 1410.7 2296.8 1411.5" transform="translate(-0.40 0)"/><path d="M1343.3 1199.0 C1344.6 1199.6 1347.1 1199.8 1349.6 1202.0 C1352.1 1204.2 1353.4 1204.8 1355.6 1210.0 C1357.8 1215.2 1358.6 1220.1 1360.6 1228.1 C1362.6 1236.1 1363.7 1240.5 1365.6 1250.0 C1367.5 1259.5 1367.9 1264.6 1369.9 1275.4 C1371.9 1286.2 1373.8 1295.6 1375.7 1304.1 C1377.6 1312.6 1377.4 1314.2 1379.6 1318.0 C1381.8 1321.8 1382.4 1322.7 1386.6 1323.0 C1390.8 1323.3 1394.5 1321.6 1400.5 1319.6 C1406.5 1317.6 1408.8 1315.3 1416.6 1313.0 C1424.4 1310.7 1427.0 1310.1 1439.3 1308.0 C1451.6 1305.9 1462.7 1306.5 1478.1 1302.6 C1493.5 1298.7 1502.0 1294.6 1516.3 1288.5 C1530.6 1282.4 1535.2 1278.8 1549.8 1272.3 C1564.4 1265.8 1572.6 1256.2 1589.2 1256.0 C1605.8 1255.8 1617.7 1264.2 1633.0 1271.2 C1648.3 1278.2 1653.2 1282.0 1665.9 1290.8 C1678.6 1299.6 1683.6 1304.9 1696.6 1315.0 C1709.6 1325.1 1720.3 1336.0 1730.9 1341.2 C1741.5 1346.4 1742.6 1343.0 1749.6 1341.0 C1756.6 1339.0 1759.3 1340.5 1765.9 1331.1 C1772.5 1321.7 1776.2 1310.5 1782.7 1294.1 C1789.2 1277.7 1793.2 1260.6 1798.2 1249.0 C1803.2 1237.4 1803.7 1239.8 1807.6 1236.0 C1811.5 1232.2 1813.6 1229.4 1817.6 1230.0 C1821.6 1230.6 1820.9 1229.9 1827.8 1239.0 C1834.7 1248.1 1841.9 1261.4 1852.0 1275.3 C1862.1 1289.2 1865.7 1295.9 1878.2 1308.3 C1890.7 1320.7 1899.0 1327.2 1914.5 1337.2 C1930.0 1347.2 1939.8 1351.8 1955.6 1358.4 C1971.4 1365.0 1977.5 1365.4 1993.6 1370.0 C2009.7 1374.6 2019.0 1377.6 2036.0 1381.4 C2053.0 1385.2 2061.9 1386.3 2078.6 1389.0 C2095.3 1391.7 2102.0 1392.3 2119.6 1394.7 C2137.2 1397.1 2149.2 1399.0 2166.8 1401.0 C2184.4 1403.0 2191.1 1403.5 2207.8 1404.8 C2224.5 1406.1 2232.6 1406.0 2250.4 1407.3 C2268.2 1408.6 2287.5 1410.7 2296.8 1411.5" transform="translate(0.40 0)"/></g>
</g>
<rect x="631.60" y="1485.10" width="11.70" height="508.60" fill="#000"/>
<rect x="1268.00" y="1485.10" width="11.00" height="508.60" fill="#000"/>
<rect x="631.60" y="1485.10" width="647.40" height="10.10" fill="#000"/>
<rect x="631.60" y="1984.20" width="647.40" height="9.50" fill="#000"/>
<rect x="736.90" y="1494.20" width="12.00" height="12.00" fill="#000"/>
<rect x="736.90" y="1971.60" width="12.00" height="13.60" fill="#000"/>
<rect x="844.30" y="1494.20" width="9.50" height="4.30" fill="#000"/>
<rect x="844.30" y="1980.70" width="9.50" height="4.50" fill="#000"/>
<rect x="949.20" y="1494.20" width="12.00" height="12.00" fill="#000"/>
<rect x="949.20" y="1971.60" width="12.00" height="13.60" fill="#000"/>
<rect x="1056.60" y="1494.20" width="9.50" height="4.30" fill="#000"/>
<rect x="1056.60" y="1980.70" width="9.50" height="4.50" fill="#000"/>
<rect x="1161.50" y="1494.20" width="12.00" height="12.00" fill="#000"/>
<rect x="1161.50" y="1971.60" width="12.00" height="13.60" fill="#000"/>
<rect x="642.30" y="1609.60" width="4.50" height="10.00" fill="#000"/>
<rect x="642.30" y="1734.30" width="14.60" height="10.00" fill="#000"/>
<rect x="642.30" y="1859.00" width="4.50" height="10.00" fill="#000"/>
<g clip-path="url(#clipI)">
<path d="M637.4 1946.0 C638.5 1945.8 634.1 1946.2 643.1 1945.2 C652.1 1944.2 669.4 1943.1 682.5 1940.8 C695.6 1938.5 700.9 1937.1 708.8 1933.6 C716.7 1930.1 717.4 1928.1 721.9 1923.1 C726.4 1918.1 727.9 1915.0 731.1 1908.7 C734.3 1902.4 735.1 1899.0 737.7 1891.6 C740.3 1884.2 741.6 1879.3 744.2 1871.9 C746.8 1864.5 747.9 1860.8 750.8 1854.8 C753.7 1848.8 754.5 1846.4 758.7 1841.7 C762.9 1837.0 764.7 1834.6 771.8 1831.2 C778.9 1827.8 783.1 1826.4 794.1 1824.6 C805.1 1822.8 813.8 1823.1 827.0 1822.0 C840.2 1820.9 847.4 1820.5 860.0 1819.0 C872.6 1817.5 878.2 1816.7 890.0 1814.5 C901.8 1812.3 913.4 1809.1 919.2 1807.8 L934.0 1823.3 C936.4 1813.6 942.1 1792.6 946.1 1774.8 C950.1 1757.0 950.6 1750.6 954.1 1734.5 C957.6 1718.4 960.4 1708.1 963.6 1694.1 C966.8 1680.1 967.8 1672.7 970.3 1664.6 C972.8 1656.5 975.1 1656.0 976.3 1653.8 L985.8 1671.3 C990.2 1669.5 998.1 1665.5 1007.9 1662.5 C1017.7 1659.5 1024.4 1658.2 1034.8 1656.5 C1045.2 1654.8 1050.3 1654.3 1060.0 1653.8 C1069.7 1653.3 1072.3 1654.7 1083.5 1654.0 C1094.7 1653.3 1105.7 1652.1 1116.0 1650.5 C1126.3 1648.9 1128.0 1649.1 1135.0 1646.0 C1142.0 1642.9 1146.0 1640.0 1151.0 1635.0 C1156.0 1630.0 1156.9 1627.2 1160.0 1621.0 C1163.1 1614.8 1163.9 1611.4 1166.5 1604.0 C1169.1 1596.6 1170.4 1591.6 1173.0 1584.0 C1175.6 1576.4 1176.5 1572.4 1179.5 1566.0 C1182.5 1559.6 1183.7 1556.9 1188.0 1552.0 C1192.3 1547.1 1193.0 1544.8 1201.0 1541.5 C1209.0 1538.2 1214.7 1537.5 1228.0 1535.5 C1241.3 1533.5 1258.2 1532.5 1267.3 1531.6 C1276.4 1530.7 1272.3 1531.1 1273.6 1531.0" fill="none" stroke="#000000" stroke-width="12.6" stroke-linecap="round" stroke-linejoin="round" />
<path d="M637.4 1985.0 C646.4 1982.9 670.0 1978.1 682.5 1974.3 C695.0 1970.5 693.7 1970.2 700.0 1966.0 C706.3 1961.8 709.0 1960.1 714.0 1953.3 C719.0 1946.5 720.9 1941.1 725.0 1932.0 C729.1 1922.9 731.1 1921.1 734.4 1908.0 C737.7 1894.9 738.7 1884.4 741.6 1866.7 C744.5 1849.0 745.9 1836.7 748.8 1819.4 C751.7 1802.1 753.4 1791.3 756.0 1780.4 C758.6 1769.5 758.8 1770.1 762.0 1765.0 C765.2 1759.9 765.0 1758.9 772.0 1755.0 C779.0 1751.1 783.5 1748.4 797.0 1745.7 C810.5 1743.0 820.4 1742.5 839.6 1741.6 C858.8 1740.7 873.8 1741.4 893.0 1741.0 C912.2 1740.6 923.3 1740.1 935.7 1739.8 C948.1 1739.5 947.4 1739.5 955.2 1739.3 C963.0 1739.1 962.3 1739.1 974.7 1738.8 C987.1 1738.5 998.2 1738.0 1017.4 1737.6 C1036.6 1737.2 1051.6 1737.9 1070.8 1737.0 C1090.0 1736.1 1099.9 1735.6 1113.4 1732.9 C1126.9 1730.2 1131.4 1727.5 1138.4 1723.6 C1145.4 1719.7 1145.2 1718.7 1148.4 1713.6 C1151.6 1708.5 1151.8 1709.1 1154.4 1698.2 C1157.0 1687.3 1158.7 1676.5 1161.6 1659.2 C1164.5 1641.9 1165.9 1629.6 1168.8 1611.9 C1171.7 1594.2 1172.7 1583.7 1176.0 1570.6 C1179.3 1557.5 1181.3 1555.7 1185.4 1546.6 C1189.5 1537.5 1191.4 1532.1 1196.4 1525.3 C1201.4 1518.5 1204.1 1516.8 1210.4 1512.6 C1216.7 1508.4 1215.4 1508.1 1227.9 1504.3 C1240.4 1500.5 1264.0 1495.7 1273.0 1493.6" fill="none" stroke="#ff0000" stroke-width="12.4" stroke-linecap="round" stroke-linejoin="round" stroke-dasharray="42.6 51.4" stroke-dashoffset="2.6" />
</g>
<g font-family="'Liberation Serif', serif" font-size="100" fill="#000" stroke="#fff" stroke-width="1.3" stroke-linejoin="round">
<text transform="matrix(0.9855 0 0 0.9088 240.91 239.33)" >0.5</text>
<text transform="matrix(1.0128 0 0 0.9088 240.80 638.23)" >0.0</text>
<text transform="matrix(0.9879 0 0 0.9088 184.31 1038.53)" >−0.5</text>
<text transform="matrix(0.9855 0 0 0.9088 240.91 1234.53)" >0.5</text>
<text transform="matrix(1.0128 0 0 0.9088 240.80 1465.83)" >0.0</text>
<text transform="matrix(0.9879 0 0 0.9088 184.31 1697.13)" >−0.5</text>
<text transform="matrix(1.0064 0 0 0.9088 184.22 1928.43)" >−1.0</text>
<text transform="matrix(0.9879 0 0 0.9224 184.31 2160.63)" >−1.5</text>
<text transform="matrix(1.0100 0 0 0.9250 433.04 2226.65)" >−0.6</text>
<text transform="matrix(1.0100 0 0 0.9250 704.11 2226.65)" >−0.4</text>
<text transform="matrix(1.0100 0 0 0.9250 977.91 2226.65)" >−0.2</text>
<text transform="matrix(1.0100 0 0 0.9250 1279.97 2226.65)" >0.0</text>
<text transform="matrix(1.0100 0 0 0.9250 1552.86 2226.65)" >0.2</text>
<text transform="matrix(1.0100 0 0 0.9250 1823.72 2226.65)" >0.4</text>
<text transform="matrix(1.0100 0 0 0.9250 2096.61 2226.65)" >0.6</text>
<text transform="matrix(1.0922 0 0 1.0408 1040.65 2335.17)" >bias voltate V</text>
<text transform="matrix(0.9893 0 0 0.9456 427.19 159.49)" >(a)</text>
<text transform="matrix(0.9865 0 0 0.9206 426.49 281.11)" >Γ=0.05</text>
<text transform="matrix(1.0139 0 0 0.9444 428.79 1198.22)" >(b)</text>
<text transform="matrix(0.9805 0 0 0.8958 430.51 1322.76)" >λ=0.1</text>
<text transform="matrix(1.0338 0 0 0.8903 906.75 733.27)" >λ=0</text>
<text transform="matrix(0.9989 0 0 0.8917 906.85 856.27)" >λ=0.05</text>
<text transform="matrix(1.0185 0 0 0.8917 906.79 979.17)" >λ=0.2</text>
<text transform="matrix(0.9786 0 0 0.8903 1723.31 733.27)" >λ=0.01</text>
<text transform="matrix(0.9778 0 0 0.8917 1773.72 856.27)" >λ=0.1</text>
<text transform="matrix(0.9800 0 0 0.9147 878.01 1192.32)" >Γ=0.01</text>
<text transform="matrix(0.9805 0 0 0.9147 1433.71 1192.32)" >Γ=0.03</text>
<text transform="matrix(0.9752 0 0 0.9147 1986.42 1192.32)" >Γ=0.1</text>
<text transform="matrix(0.6867 0 0 0.6353 498.15 1506.53)" stroke="none">0.02</text>
<text transform="matrix(0.6826 0 0 0.6338 498.17 1757.63)" stroke="none">0.00</text>
<text transform="matrix(0.6801 0 0 0.6206 461.20 2006.26)" stroke="none">−0.02</text>
<text transform="matrix(0.6860 0 0 0.6270 680.52 2052.38)" stroke="none">−0.2</text>
<text transform="matrix(0.6860 0 0 0.6270 911.33 2052.38)" stroke="none">0.0</text>
<text transform="matrix(0.6860 0 0 0.6270 1124.97 2052.38)" stroke="none">0.2</text>
<text transform="matrix(0.6720 0 0 0.5930 771.60 2103.21)" stroke="none">bias voltate V</text>
<text transform="matrix(0.6614 0 0 0.6235 933.62 1570.95)" stroke="none">Γ=0.01</text>
<text stroke="none" transform="matrix(0.6300 0 0 0.6550 839.94 1570.17)">J</text>
<text transform="matrix(1.0500 0 0 0.6780 852.45 1584.87)" >↑</text>
<text stroke="none" transform="matrix(0.6300 0 0 0.6550 839.94 1659.08)">J</text>
<text transform="matrix(1.0500 0 0 0.6780 852.45 1675.57)" >↓</text>
<text stroke="none" transform="matrix(0 -0.6389 0.6722 0 467.78 1806.88)">J(e/h)</text>
<text transform="matrix(0 -0.9700 1.1150 0 143.93 664.58)">G</text>
<text transform="matrix(0 -1.4500 1.1695 0 170.69 606.35)">↑</text>
<text transform="matrix(0 -1.0115 1.1044 0 143.51 524.05)">(</text>
<text transform="matrix(0 -1.0514 1.1333 0 144.47 490.11)">e</text>
<text transform="matrix(0 -0.6585 0.7418 0 98.26 445.03)">2</text>
<text transform="matrix(0 -1.0000 1.1687 0 143.26 411.40)">/</text>
<text transform="matrix(0 -1.0229 1.0957 0 142.90 384.42)">h</text>
<text transform="matrix(0 -0.9923 1.1044 0 143.51 332.08)">)</text>
<text transform="matrix(0 -0.9700 1.1150 0 143.93 1705.58)">G</text>
<text transform="matrix(0 -1.4500 1.1695 0 170.69 1647.35)">↑</text>
<text transform="matrix(0 -1.0115 1.1044 0 143.51 1565.05)">(</text>
<text transform="matrix(0 -1.0514 1.1333 0 144.47 1531.11)">e</text>
<text transform="matrix(0 -0.6585 0.7418 0 98.26 1486.03)">2</text>
<text transform="matrix(0 -1.0000 1.1687 0 143.26 1452.40)">/</text>
<text transform="matrix(0 -1.0229 1.0957 0 142.90 1425.42)">h</text>
<text transform="matrix(0 -0.9923 1.1044 0 143.51 1373.08)">)</text>
</g>
</svg></body></html>
